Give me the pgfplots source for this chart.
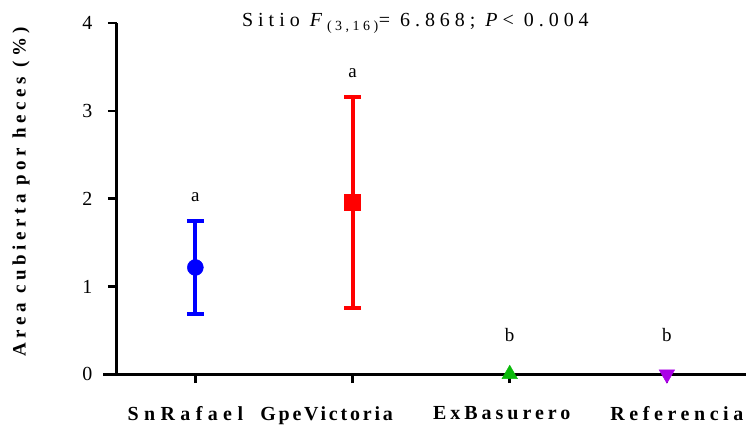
\documentclass[border=0pt]{standalone}
\usepackage{pgfplots}
\pgfplotsset{compat=1.18}
\usepackage{fontspec}
\setmainfont{Liberation Serif}
\newfontfamily\lsA[LetterSpace=27]{Liberation Serif}
\newfontfamily\lsB[LetterSpace=14]{Liberation Serif}
\newfontfamily\lsC[LetterSpace=20]{Liberation Serif}
\newfontfamily\lsD[LetterSpace=23]{Liberation Serif}
\newfontfamily\spacedy[LetterSpace=24]{Liberation Serif}
\newfontfamily\spacedt[LetterSpace=25]{Liberation Serif}
\definecolor{cblue}{RGB}{0,0,255}
\definecolor{cred}{RGB}{255,0,0}
\definecolor{cgreen}{RGB}{10,185,10}
\definecolor{cpurple}{RGB}{170,0,230}
\begin{document}
\begin{tikzpicture}
\begin{axis}[
  scale only axis, width=630pt, height=352pt,
  xmin=-0.5, xmax=3.5, ymin=0, ymax=4,
  clip=false,
  axis x line=bottom, axis y line=left,
  axis line style={line width=3pt, -},
  x axis line style={draw=none},
  xtick={0,1,2,3},
  xticklabels={{\hspace*{-20pt}\lsA SnRafael},{\hspace*{-52pt}\lsB GpeVictoria},{\hspace*{-16pt}\lsC ExBasurero},{\hspace*{20pt}\lsD Referencia}},
  ytick={0,1,2,3,4},
  tick align=outside,
  major tick length=9pt,
  tick style={line width=2.5pt, black},
  x tick label style={font=\fontsize{20}{22}\selectfont\bfseries, yshift=-20pt},
  y tick label style={font=\fontsize{20}{22}\selectfont, xshift=-12pt},
  /pgf/number format/assume math mode=true,
  ylabel={Area cubierta por heces (\%)},
  ylabel style={font=\fontsize{19}{21}\selectfont\spacedy\bfseries, yshift=46pt, xshift=7pt},
]
\draw[line width=3pt] (axis cs:-0.585,0) -- (axis cs:3.5,0);
\addplot[cblue, line width=4pt, mark=*, mark size=8pt, mark options={solid, line width=0.5pt},
  error bars/.cd, y dir=both, y explicit,
  error bar style={line width=4pt, cblue},
  error mark options={rotate=90, mark size=8.5pt, line width=4pt, cblue}]
  coordinates {(0,1.216) +- (0,0.53)};
\addplot[cred, line width=4pt, mark=square*, mark size=8pt, mark options={solid, line width=0.5pt},
  error bars/.cd, y dir=both, y explicit,
  error bar style={line width=4pt, cred},
  error mark options={rotate=90, mark size=8.5pt, line width=4pt, cred}]
  coordinates {(1,1.955) +- (0,1.2)};
\addplot[cgreen, mark=triangle*, mark size=9pt, mark options={solid, line width=0.5pt}]
  coordinates {(2,0)};
\addplot[cpurple, mark=triangle*, mark size=9pt, mark options={solid, rotate=180, line width=0.5pt}]
  coordinates {(3,0)};
\node[font=\fontsize{19}{21}\selectfont] at (axis cs:0,2.02) {a};
\node[font=\fontsize{19}{21}\selectfont] at (axis cs:1,3.43) {a};
\node[font=\fontsize{19}{21}\selectfont] at (axis cs:2,0.45) {b};
\node[font=\fontsize{19}{21}\selectfont] at (axis cs:3,0.45) {b};
\node[font=\fontsize{20}{22}\selectfont\spacedt, anchor=base] at (axis cs:1.40,3.955)
  {Sitio \textit{F}\textsubscript{(3,16)}= 6.868; \textit{P}< 0.004};
\end{axis}
\path[use as bounding box] (-117pt,-52pt) rectangle (630pt,375pt);
\end{tikzpicture}
\end{document}
